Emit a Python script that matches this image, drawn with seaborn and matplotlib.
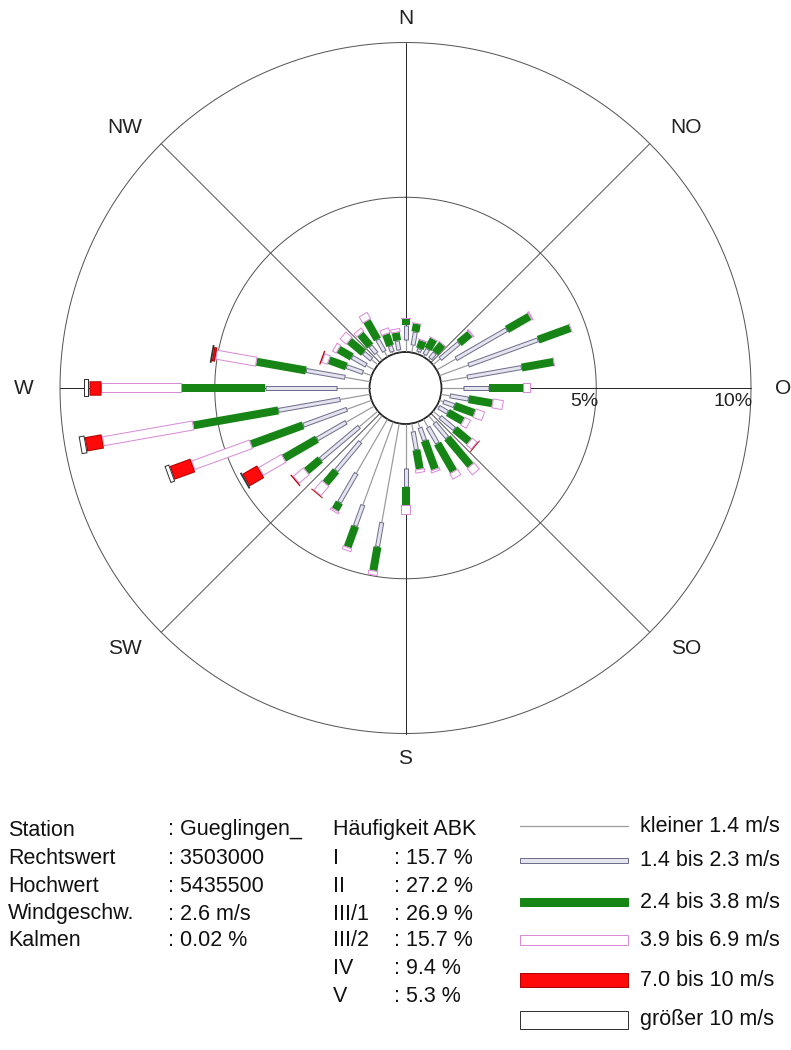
import numpy as np
import matplotlib
matplotlib.use("Agg")
import matplotlib.pyplot as plt
from matplotlib.patches import Rectangle
import seaborn as sns

# ---------------- data ----------------
directions = list(range(0, 360, 10))          # degrees, meteorological
speed_classes = ["kleiner 1.4 m/s", "1.4 bis 2.3 m/s", "2.4 bis 3.8 m/s",
                 "3.9 bis 6.9 m/s", "7.0 bis 10 m/s", "größer 10 m/s"]

# frequency (%) per direction and speed class
f_lt14 = [0.39, 0.23, 0.07, 0.07, 0.07, 0.29, 0.71, 0.99, 0.85, 0.71, 0.29, 0.13,
          0.07, 0.29, 0.29, 0.29, 0.19, 0.26, 1.42, 3.24, 2.85, 2.01, 1.10, 0.78,
          1.04, 0.84, 0.97, 1.04, 0.81, 0.29, 0.29, 0.26, 0.29, 0.19, 0.07, 0.07]
f_14_23 = [0.48, 0.45, 0.12, 0.22, 0.25, 0.81, 1.91, 2.41, 1.80, 0.81, 0.62, 0.39,
           0.35, 0.62, 0.65, 0.62, 0.46, 0.61, 0.62, 0.81, 0.74, 1.10, 1.23, 1.65,
           1.10, 1.52, 2.04, 2.33, 1.29, 0.58, 0.55, 0.35, 0.32, 0.46, 0.22, 0.32]
f_24_38 = [0.20, 0.26, 0.26, 0.36, 0.36, 0.45, 0.84, 1.10, 1.04, 1.10, 0.77, 0.68,
           0.55, 0.61, 1.16, 1.03, 0.97, 0.62, 0.58, 0.77, 0.71, 0.26, 0.52, 0.58,
           1.23, 1.78, 2.78, 2.68, 1.62, 0.59, 0.49, 0.59, 0.49, 0.68, 0.39, 0.26]
f_39_69 = [0.03, 0.03, 0.04, 0.03, 0.03, 0.07, 0.07, 0.03, 0.03, 0.26, 0.36, 0.32,
           0.23, 0.23, 0.29, 0.23, 0.10, 0.13, 0.32, 0.16, 0.13, 0.09, 0.42, 0.45,
           0.87, 2.01, 2.98, 2.62, 1.33, 0.22, 0.16, 0.29, 0.16, 0.26, 0.19, 0.13]
f_70_10 = [0, 0, 0, 0, 0, 0, 0, 0, 0, 0, 0, 0,
           0, 0.03, 0, 0, 0, 0, 0, 0, 0, 0, 0.03, 0.04,
           0.55, 0.71, 0.55, 0.39, 0.10, 0.04, 0, 0, 0, 0, 0, 0]
f_gt10 = [0, 0, 0, 0, 0, 0, 0, 0, 0, 0, 0, 0,
          0, 0, 0, 0, 0, 0, 0, 0, 0, 0, 0, 0,
          0.06, 0.16, 0.19, 0.16, 0.06, 0, 0, 0, 0, 0, 0, 0]

direction_labels = ["N", "NO", "O", "SO", "S", "SW", "W", "NW"]
ring_values = [5, 10]
ring_labels = ["5%", "10%"]

info_keys = ["Station", "Rechtswert", "Hochwert", "Windgeschw.", "Kalmen"]
info_vals = [": Gueglingen_", ": 3503000", ": 5435500", ": 2.6 m/s", ": 0.02 %"]
abk_title = "Häufigkeit ABK"
abk_classes = ["I", "II", "III/1", "III/2", "IV", "V"]
abk_vals = [": 15.7 %", ": 27.2 %", ": 26.9 %", ": 15.7 %", ": 9.4 %", ": 5.3 %"]

# ---------------- style ----------------
sns.set_theme(style="white")
plt.rcParams["font.family"] = ["Liberation Sans", "DejaVu Sans"]

DPI = 100
W_PX, H_PX = 791, 1050
styles = [
    dict(w=1.2, face="#9a9a9a", edge=None),
    dict(w=5.0, face="#e4e4ee", edge="#6e6e8c"),
    dict(w=8.0, face="#168516", edge=None),
    dict(w=10.0, face="#ffffff", edge="#d98ad9"),
    dict(w=14.5, face="#ff0a0a", edge="#b00000"),
    dict(w=18.0, face="#ffffff", edge="#333333"),
]

fig = plt.figure(figsize=(W_PX / DPI, H_PX / DPI), dpi=DPI)
fig.patch.set_facecolor("white")

cx, cy, R = 405.5, 388.0, 345.5
ax = fig.add_axes([(cx - R) / W_PX, 1 - (cy + R) / H_PX, 2 * R / W_PX, 2 * R / H_PX],
                  projection="polar")
ax.set_zorder(2)
ax.set_theta_zero_location("N")
ax.set_theta_direction(-1)
r_hole_px = 36.0
rmax = 10.0
ppu = (R - r_hole_px) / rmax           # pixels per percent
ax.set_ylim(0, rmax)
ax.set_rorigin(-r_hole_px / ppu)
ax.grid(False)
ax.set_xticks([])
ax.set_yticks([])
for s in ax.spines.values():
    s.set_visible(False)


def pt(px):
    return px * 72.0 / DPI


def seg(th, r0, r1, st, z):
    if r1 <= r0:
        return
    if st["edge"] is None:
        ax.plot([th, th], [r0, r1], color=st["face"], lw=pt(st["w"]),
                solid_capstyle="butt", zorder=z)
    else:
        ax.plot([th, th], [r0, r1], color=st["edge"], lw=pt(st["w"]),
                solid_capstyle="butt", zorder=z)
        d = 1.0 / ppu
        if r1 - r0 > 2 * d:
            ax.plot([th, th], [r0 + d, r1 - d], color=st["face"],
                    lw=pt(st["w"] - 2.0), solid_capstyle="butt", zorder=z + 0.1)


# rings
tt = np.linspace(0, 2 * np.pi, 721)
for rv in [0] + ring_values:
    ax.plot(tt, np.full_like(tt, rv), color="#555555", lw=pt(1.0), zorder=1, clip_on=False)

# radial sector lines
for k in range(8):
    th = np.deg2rad(k * 45)
    col = "#2a2a2a" if k % 2 == 0 else "#555555"
    ax.plot([th, th], [0, rmax], color=col, lw=pt(1.0), zorder=1, clip_on=False)

# bars
table = np.array([f_lt14, f_14_23, f_24_38, f_39_69, f_70_10, f_gt10])
cum = np.cumsum(table, axis=0)
for j, d in enumerate(directions):
    th = np.deg2rad(d)
    lo = 0.0
    for c in range(6):
        hi = cum[c, j]
        seg(th, lo, hi, styles[c], 3 + c * 0.2)
        lo = hi

# ring labels
for rv, lab in zip(ring_values, ring_labels):
    ax.annotate(lab, xy=(np.pi / 2, rv), xytext=(2, -14), textcoords="offset pixels",
                ha="right", va="center", fontsize=14, color="#222222",
                annotation_clip=False, zorder=6)

# direction labels
offs = {"N": (0, 24), "NO": (36, 16), "O": (32, 0), "SO": (36, -16),
        "S": (0, -25), "SW": (-36, -16), "W": (-36, 0), "NW": (-36, 16)}
for k, lab in enumerate(direction_labels):
    th = np.deg2rad(k * 45)
    ax.annotate(lab, xy=(th, rmax), xytext=offs[lab], textcoords="offset pixels",
                ha="center", va="center", fontsize=15, color="#222222",
                annotation_clip=False)

# ---------------- bottom info & legend ----------------
lax = fig.add_axes([0, 0, 1, 1])
lax.set_zorder(1)
lax.set_xlim(0, W_PX)
lax.set_ylim(H_PX, 0)
lax.axis("off")
lax.patch.set_alpha(0)

fs = 15.5
row_y = [830, 858, 886, 914, 941, 969, 997]
for i, (k, v) in enumerate(zip(info_keys, info_vals)):
    lax.text(8, row_y[i], k, fontsize=fs, va="center", ha="left", color="#111111")
    lax.text(168, row_y[i], v, fontsize=fs, va="center", ha="left", color="#111111")
lax.text(333, row_y[0], abk_title, fontsize=fs, va="center", ha="left", color="#111111")
for i, (k, v) in enumerate(zip(abk_classes, abk_vals)):
    lax.text(333, row_y[i + 1], k, fontsize=fs, va="center", ha="left", color="#111111")
    lax.text(394, row_y[i + 1], v, fontsize=fs, va="center", ha="left", color="#111111")

leg_y = [826, 860, 902, 940, 980, 1020]
x0, x1 = 520, 628
for i, (lab, st) in enumerate(zip(speed_classes, styles)):
    y = leg_y[i]
    h = st["w"]
    if st["edge"] is None and h < 2:
        lax.plot([x0, x1], [y, y], color=st["face"], lw=pt(1.2))
    else:
        lax.add_patch(Rectangle((x0, y - h / 2), x1 - x0, h, facecolor=st["face"],
                                edgecolor=st["edge"] if st["edge"] else st["face"],
                                lw=pt(1.0)))
    lax.text(640, y, lab, fontsize=fs, va="center", ha="left", color="#111111")

fig.savefig("out.png", dpi=DPI, facecolor="white")
